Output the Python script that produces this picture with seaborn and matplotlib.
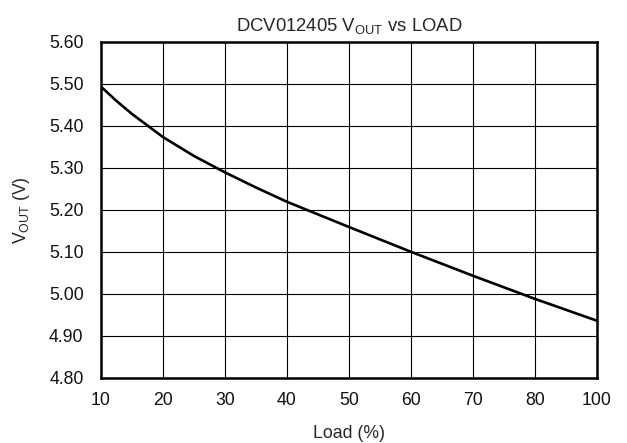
import matplotlib
matplotlib.use("Agg")
import matplotlib.pyplot as plt
import seaborn as sns
import pandas as pd

# Data (x positions on the evenly spaced axis; last gridline is labelled "100")
load_pos = [10, 12.5, 15, 20, 25, 30, 35, 40, 50, 60, 70, 80, 90]
vout = [5.493, 5.459, 5.428, 5.373, 5.328, 5.289, 5.253, 5.219, 5.159, 5.100, 5.043, 4.988, 4.936]
x_ticks = [10, 20, 30, 40, 50, 60, 70, 80, 90]
x_tick_labels = ["10", "20", "30", "40", "50", "60", "70", "80", "100"]
y_ticks = [4.80, 4.90, 5.00, 5.10, 5.20, 5.30, 5.40, 5.50, 5.60]

sns.set_style("white")
plt.rcParams["font.family"] = ["Liberation Sans", "DejaVu Sans"]
plt.rcParams["mathtext.default"] = "regular"

df = pd.DataFrame({"load": load_pos, "vout": vout})

fig = plt.figure(figsize=(6.27, 4.43), dpi=100)
ax = fig.add_axes([0.161, 0.147, 0.791, 0.759])
sns.lineplot(data=df, x="load", y="vout", ax=ax, color="black", linewidth=1.9)

ax.set_xlim(10, 90)
ax.set_ylim(4.80, 5.60)
ax.set_xticks(x_ticks)
ax.set_xticklabels(x_tick_labels)
ax.set_yticks(y_ticks)
ax.set_yticklabels([f"{v:.2f}" for v in y_ticks])
ax.grid(True, color="black", linewidth=0.8)
ax.tick_params(axis="x", length=0, labelsize=12.7, pad=10, colors="#111111")
ax.tick_params(axis="y", length=0, labelsize=12.7, pad=12.5, colors="#111111")
for s in ax.spines.values():
    s.set_visible(True)
    s.set_color("black")
    s.set_linewidth(1.8)

ax.set_xlabel("Load (%)", fontsize=12.7)
ax.xaxis.set_label_coords(0.5, -0.14)
ax.set_ylabel(r"V$_{OUT}$ (V)", fontsize=12.7)
ax.yaxis.set_label_coords(-0.14, 0.5)
ax.set_title(r"DCV012405 V$_{OUT}$ vs LOAD", fontsize=13.3, pad=8)

fig.savefig("out.png", dpi=100)
